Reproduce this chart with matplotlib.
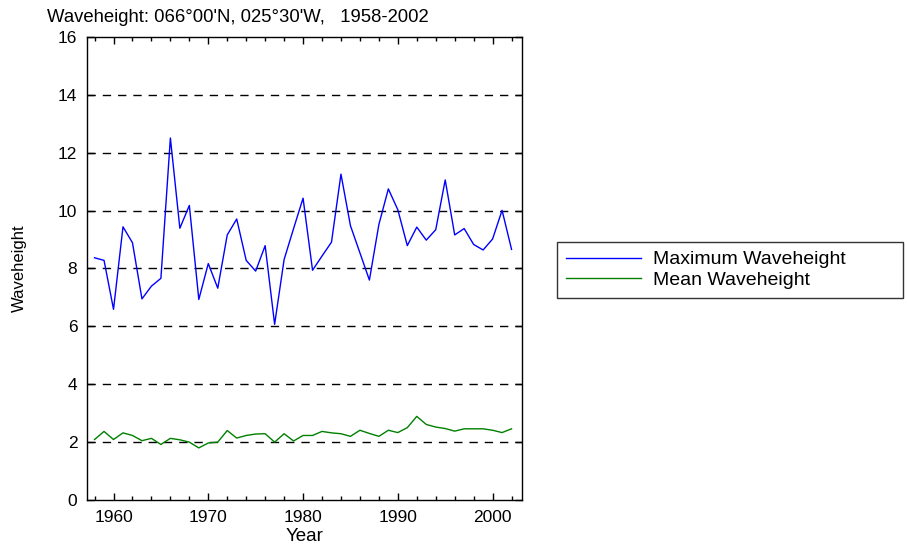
import numpy as np
import matplotlib.pyplot as plt
from matplotlib.ticker import MultipleLocator

plt.rcParams['font.family'] = ['Liberation Sans', 'DejaVu Sans']

years = list(range(1958, 2003))
max_wave = [8.37, 8.28, 6.59, 9.44, 8.89, 6.95, 7.39, 7.66, 12.51, 9.39,
            10.18, 6.93, 8.17, 7.32, 9.16, 9.71, 8.28, 7.91, 8.79, 6.07,
            8.31, 9.38, 10.43, 7.94, 8.43, 8.91, 11.26, 9.48, 8.54, 7.60,
            9.52, 10.75, 10.03, 8.79, 9.43, 8.98, 9.34, 11.06, 9.16, 9.38,
            8.83, 8.64, 9.02, 10.01, 8.66]
mean_wave = [2.09, 2.37, 2.09, 2.32, 2.23, 2.05, 2.13, 1.92, 2.13, 2.08,
             2.00, 1.80, 1.97, 2.00, 2.40, 2.14, 2.23, 2.28, 2.29, 2.00,
             2.29, 2.04, 2.23, 2.23, 2.37, 2.32, 2.29, 2.20, 2.41, 2.30,
             2.20, 2.41, 2.33, 2.50, 2.89, 2.61, 2.52, 2.47, 2.38, 2.46,
             2.46, 2.46, 2.41, 2.33, 2.46]

fig = plt.figure(figsize=(9.07, 5.52), dpi=100)
ax = fig.add_axes([0.0959, 0.0942, 0.4796, 0.8388])

# dashed reference lines every 2 units
for yv in range(2, 16, 2):
    ax.axhline(yv, color='black', lw=1, ls=(0, (6, 5)), zorder=1)

ax.plot(years, max_wave, color='#0000ff', lw=1, label='Maximum Waveheight', zorder=3)
ax.plot(years, mean_wave, color='#008000', lw=1, label='Mean Waveheight', zorder=3)

ax.set_xlim(1957.2, 2003.1)
ax.set_ylim(0, 16)
ax.xaxis.set_major_locator(MultipleLocator(10))
ax.xaxis.set_minor_locator(MultipleLocator(2))
ax.yaxis.set_major_locator(MultipleLocator(2))
ax.tick_params(which='both', direction='in', top=True, right=True, labelsize=12.5)
ax.tick_params(which='major', length=5, width=1, pad=7)
ax.tick_params(which='minor', length=3, width=1)
for s in ax.spines.values():
    s.set_linewidth(1)

ax.set_xlabel('Year', fontsize=13.5, labelpad=2)
ax.set_ylabel('Waveheight', fontsize=12, labelpad=22)
fig.text(0.052, 0.969, "Waveheight: 066°00'N, 025°30'W,   1958-2002",
         fontsize=13.3, va='center', ha='left')

leg = ax.legend(loc='center left', bbox_to_anchor=(0.614, 0.461, 0.3815, 0.1),
                bbox_transform=fig.transFigure, mode='expand', borderaxespad=0,
                fontsize=14, frameon=True, fancybox=False, handlelength=3.9,
                handletextpad=0.6, borderpad=0.45, labelspacing=0.15)
leg.get_frame().set_edgecolor('black')
leg.get_frame().set_linewidth(1)

fig.savefig('out.png', dpi=100)
